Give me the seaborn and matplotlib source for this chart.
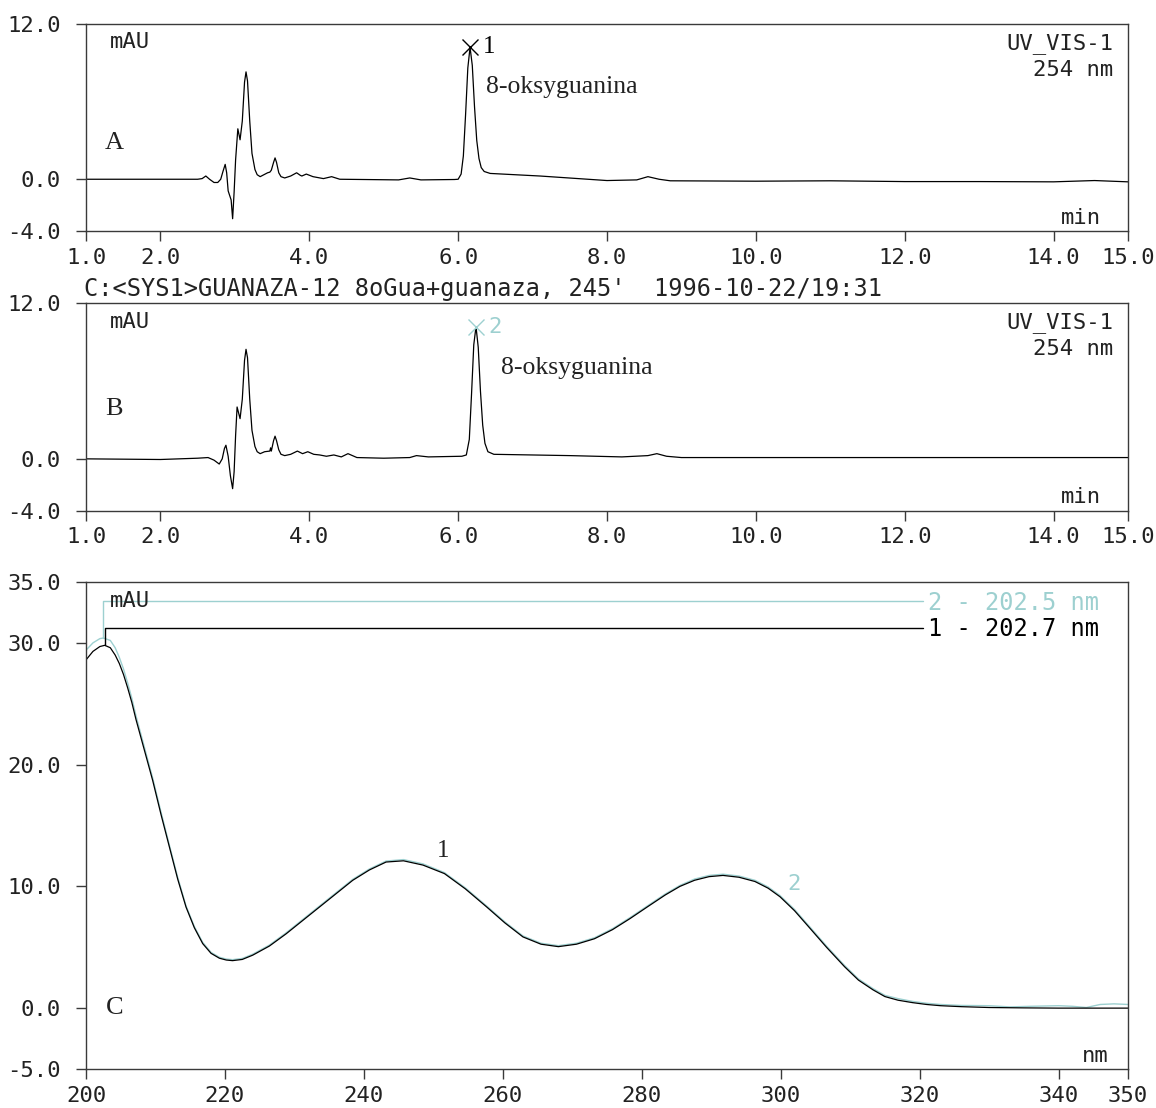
import numpy as np
import pandas as pd
import matplotlib
matplotlib.use('Agg')
import matplotlib.pyplot as plt
import seaborn as sns

# --- chromatogram A (min, mAU) ---
a_time = [1.0, 2.0, 2.50, 2.56, 2.61, 2.66, 2.72, 2.77, 2.81, 2.84, 2.87, 2.89, 2.91, 2.93,
          2.95, 2.97, 2.99, 3.01, 3.04, 3.07, 3.10, 3.13, 3.15, 3.17, 3.20, 3.23, 3.27, 3.30,
          3.34, 3.39, 3.44, 3.47, 3.49, 3.52, 3.54, 3.56, 3.59, 3.62, 3.67, 3.75, 3.83, 3.88,
          3.90, 3.96, 4.05, 4.19, 4.30, 4.41, 5.20, 5.35, 5.50, 5.95, 6.00, 6.04, 6.07, 6.10,
          6.13, 6.16, 6.19, 6.22, 6.25, 6.28, 6.31, 6.35, 6.43, 7.10, 8.00, 8.40, 8.55, 8.70,
          8.85, 10.0, 11.0, 12.0, 13.0, 14.0, 14.55, 15.0]
a_signal = [0.0, 0.0, 0.0, 0.05, 0.25, 0.0, -0.25, -0.25, 0.0, 0.6, 1.15, 0.5, -0.9, -1.25,
            -1.6, -3.05, -1.0, 1.5, 3.9, 3.05, 4.5, 7.5, 8.3, 7.6, 4.5, 2.0, 0.75, 0.35,
            0.2, 0.35, 0.5, 0.55, 0.7, 1.3, 1.65, 1.3, 0.5, 0.2, 0.1, 0.25, 0.5, 0.3,
            0.25, 0.4, 0.2, 0.05, 0.2, 0.0, -0.05, 0.1, -0.05, -0.02, 0.0, 0.4, 1.8, 5.0,
            8.6, 10.2, 8.8, 5.6, 3.0, 1.6, 0.9, 0.6, 0.45, 0.25, -0.1, -0.05, 0.2, 0.0,
            -0.12, -0.15, -0.12, -0.18, -0.18, -0.2, -0.1, -0.2]

# --- chromatogram B (min, mAU) ---
b_time = [1.0, 2.0, 2.50, 2.64, 2.72, 2.79, 2.83, 2.86, 2.88, 2.91, 2.94, 2.97, 2.99, 3.01,
          3.03, 3.07, 3.10, 3.13, 3.15, 3.17, 3.20, 3.23, 3.27, 3.30, 3.34, 3.40, 3.47, 3.48,
          3.49, 3.52, 3.54, 3.56, 3.59, 3.62, 3.67, 3.75, 3.84, 3.91, 3.98, 4.06, 4.14, 4.23,
          4.33, 4.43, 4.52, 4.64, 5.00, 5.35, 5.44, 5.60, 6.05, 6.11, 6.15, 6.18, 6.21, 6.24,
          6.27, 6.30, 6.33, 6.36, 6.40, 6.48, 7.50, 8.20, 8.55, 8.67, 8.80, 9.00, 11.0, 13.0,
          15.0]
b_signal = [0.0, -0.05, 0.05, 0.1, -0.1, -0.4, 0.0, 0.8, 1.05, 0.2, -1.3, -2.3, -1.0, 1.8,
            4.0, 3.1, 4.6, 7.6, 8.45, 7.8, 4.6, 2.2, 0.95, 0.55, 0.4, 0.55, 0.6, 0.85,
            0.6, 1.4, 1.75, 1.4, 0.7, 0.35, 0.25, 0.35, 0.6, 0.4, 0.55, 0.35, 0.3, 0.2,
            0.3, 0.15, 0.4, 0.1, 0.05, 0.1, 0.25, 0.15, 0.2, 0.3, 1.5, 5.0, 8.8, 10.2,
            8.6, 5.2, 2.6, 1.2, 0.55, 0.35, 0.25, 0.15, 0.25, 0.4, 0.2, 0.1, 0.1, 0.1,
            0.1]

# --- UV spectra C (nm, mAU) ---
c_wl_1 = [200, 201, 202, 202.7, 203.5, 204.2, 204.8, 205.4, 206, 206.6, 207.2, 208.4, 209.6,
          210.8, 212, 213.2, 214.4, 215.6, 216.8, 218, 219.2, 220.2, 221.1, 222.5, 224, 226.4,
          228.8, 231.2, 233.6, 236, 238.4, 240.8, 243.2, 245.7, 248.5, 251.6, 254.6, 257.7,
          260.3, 262.9, 265.5, 268, 270.6, 273.2, 275.8, 278.3, 280.9, 283.4, 285.5, 287.6,
          289.7, 291.7, 294, 296.3, 298.2, 299.9, 302, 304, 306.6, 309.2, 311.2, 313.3, 315,
          316.9, 319, 321, 323, 326, 330, 335, 340, 345, 350]
c_abs_1 = [28.6, 29.3, 29.7, 29.8, 29.6, 29.0, 28.3, 27.4, 26.3, 25.1, 23.7, 21.2, 18.7,
           15.9, 13.25, 10.6, 8.3, 6.6, 5.3, 4.5, 4.1, 3.95, 3.9, 4.0, 4.35, 5.1,
           6.1, 7.2, 8.3, 9.4, 10.5, 11.35, 12.0, 12.1, 11.75, 11.05, 9.8, 8.3,
           7.0, 5.85, 5.25, 5.05, 5.25, 5.7, 6.45, 7.35, 8.35, 9.3, 10.0, 10.5,
           10.8, 10.9, 10.75, 10.4, 9.85, 9.15, 8.0, 6.7, 5.0, 3.4, 2.3, 1.5, 0.95,
           0.65, 0.45, 0.3, 0.2, 0.12, 0.05, 0.02, 0.0, 0.0, 0.0]
c_wl_2 = [200, 201, 202, 202.5, 203.5, 204.2, 204.8, 205.4, 206, 206.6, 207.2, 208.4, 209.6,
          210.8, 212, 213.2, 214.4, 215.6, 216.8, 218, 219.2, 220.2, 221.1, 222.5, 224, 226.4,
          228.8, 231.2, 233.6, 236, 238.4, 240.8, 243.2, 245.7, 248.5, 251.6, 254.6, 257.7,
          260.3, 262.9, 265.5, 268, 270.6, 273.2, 275.8, 278.3, 280.9, 283.4, 285.5, 287.6,
          289.7, 291.7, 294, 296.3, 298.2, 299.9, 302, 304, 306.6, 309.2, 311.2, 313.3, 315,
          316.9, 319, 321, 323, 326, 330, 333, 336, 340, 342, 344, 346, 348, 350]
c_abs_2 = [29.4, 30.0, 30.35, 30.4, 30.2, 29.6, 28.8, 27.85, 26.7, 25.45, 24.0, 21.45, 18.9,
           16.1, 13.4, 10.75, 8.4, 6.7, 5.4, 4.58, 4.18, 4.03, 3.98, 4.08, 4.43, 5.18,
           6.18, 7.28, 8.38, 9.48, 10.58, 11.43, 12.08, 12.2, 11.85, 11.13, 9.88, 8.38,
           7.08, 5.93, 5.33, 5.13, 5.33, 5.78, 6.53, 7.43, 8.43, 9.38, 10.08, 10.6,
           10.9, 11.0, 10.85, 10.5, 9.95, 9.25, 8.1, 6.8, 5.1, 3.5, 2.4, 1.6, 1.05,
           0.78, 0.55, 0.4, 0.3, 0.22, 0.2, 0.1, 0.15, 0.2, 0.15, 0.05, 0.3, 0.35, 0.3]

header = "C:<SYS1>GUANAZA-12 8oGua+guanaza, 245'  1996-10-22/19:31"
peak_name = '8-oksyguanina'

teal = '#9dd0d0'
frame = '#3a3a3a'
mono = ['DejaVu Sans Mono', 'DejaVu Sans']
serif = ['Liberation Serif', 'DejaVu Serif']

sns.set_theme(style='ticks')
plt.rcParams['font.family'] = mono
plt.rcParams['font.size'] = 16
plt.rcParams['text.color'] = '#222222'

W, H = 1156, 1108
fig = plt.figure(figsize=(W / 100, H / 100), dpi=100)
axA = fig.add_axes([86 / W, 1 - 231 / H, 1042 / W, 207 / H])
axB = fig.add_axes([86 / W, 1 - 510.7 / H, 1042 / W, 207.4 / H])
axC = fig.add_axes([86 / W, 1 - 1069 / H, 1042 / W, 487 / H])


def style(ax):
    for s in ax.spines.values():
        s.set_visible(True)
        s.set_color(frame)
        s.set_linewidth(1.0)
    ax.tick_params(direction='out', length=7, width=1, color=frame,
                   labelsize=16, labelcolor='#222222')
    ax.tick_params(axis='x', pad=5)
    ax.tick_params(axis='y', pad=11)
    ax.grid(False)
    ax.set_xlabel('')
    ax.set_ylabel('')


def chrom(ax, t, v, num, col, letter, name_xy, letter_y):
    df = pd.DataFrame({'t': t, 'v': v})
    sns.lineplot(data=df, x='t', y='v', ax=ax, color='black', lw=0.9, estimator=None)
    ax.set_xlim(1, 15)
    ax.set_ylim(-4, 12)
    ax.set_xticks([1, 2, 4, 6, 8, 10, 12, 14, 15])
    ax.set_xticklabels([f'{x:.1f}' for x in [1, 2, 4, 6, 8, 10, 12, 14, 15]])
    ax.set_yticks([-4, 0, 12])
    ax.set_yticklabels([f'{y:.1f}' for y in [-4, 0, 12]])
    style(ax)
    i = int(np.argmax(df['v'].values))
    pt, pv = df['t'][i], df['v'][i]
    ax.plot([pt], [pv], marker='x', ms=12, mew=1.0, color=col, ls='none')
    ax.annotate(num, (pt, pv), xytext=(14, 0), textcoords='offset points',
                ha='center', va='center', color=col,
                family=serif if col == 'black' else mono, fontsize=18 if col == 'black' else 16)
    ax.text(name_xy[0], name_xy[1], peak_name, family=serif, fontsize=18.5,
            ha='left', va='center')
    ax.text(0.023, 0.912, 'mAU', transform=ax.transAxes, ha='left', va='center')
    ax.text(0.9856, 0.908, 'UV_VIS-1', transform=ax.transAxes, ha='right', va='center')
    ax.text(0.9856, 0.778, '254 nm', transform=ax.transAxes, ha='right', va='center')
    ax.text(0.974, 0.064, 'min', transform=ax.transAxes, ha='right', va='center')
    ax.text(0.027, letter_y, letter, transform=ax.transAxes, family=serif,
            fontsize=19, ha='center', va='center')


chrom(axA, a_time, a_signal, '1', 'black', 'A', (6.37, 7.1), 0.425)
chrom(axB, b_time, b_signal, '2', teal, 'B', (6.57, 7.0), 0.49)

fig.text(84 / W, 1 - 289 / H, header, ha='left', va='center', fontsize=17)

# spectra
spec2 = pd.DataFrame({'wl': c_wl_2, 'a': c_abs_2})
spec1 = pd.DataFrame({'wl': c_wl_1, 'a': c_abs_1})
sns.lineplot(data=spec2, x='wl', y='a', ax=axC, color=teal, lw=1.0, estimator=None)
sns.lineplot(data=spec1, x='wl', y='a', ax=axC, color='black', lw=0.9, estimator=None)
axC.set_xlim(200, 350)
axC.set_ylim(-5, 35)
axC.set_xticks([200, 220, 240, 260, 280, 300, 320, 340, 350])
axC.set_yticks([-5, 0, 10, 20, 30, 35])
axC.set_yticklabels([f'{y:.1f}' for y in [-5, 0, 10, 20, 30, 35]])
style(axC)

for spec, col, level, num in [(spec2, teal, 33.4, '2'), (spec1, 'black', 31.2, '1')]:
    i = int(np.argmax(spec['a'].values))
    pw, pa = spec['wl'][i], spec['a'][i]
    axC.plot([pw, pw, 320.5], [pa, level, level], color=col, lw=1.0)
    axC.text(321.2, level - 0.1, f'{num} - {pw:.1f} nm', color=col, ha='left', va='center',
             fontsize=17)

axC.text(251.4, 12.9, '1', family=serif, fontsize=18, ha='center', va='center')
axC.text(301.9, 10.2, '2', color=teal, ha='center', va='center')
axC.text(0.023, 0.96, 'mAU', transform=axC.transAxes, ha='left', va='center')
axC.text(0.981, 0.026, 'nm', transform=axC.transAxes, ha='right', va='center')
axC.text(0.028, 0.125, 'C', transform=axC.transAxes, family=serif, fontsize=19,
         ha='center', va='center')

fig.savefig('out.png', dpi=100)
